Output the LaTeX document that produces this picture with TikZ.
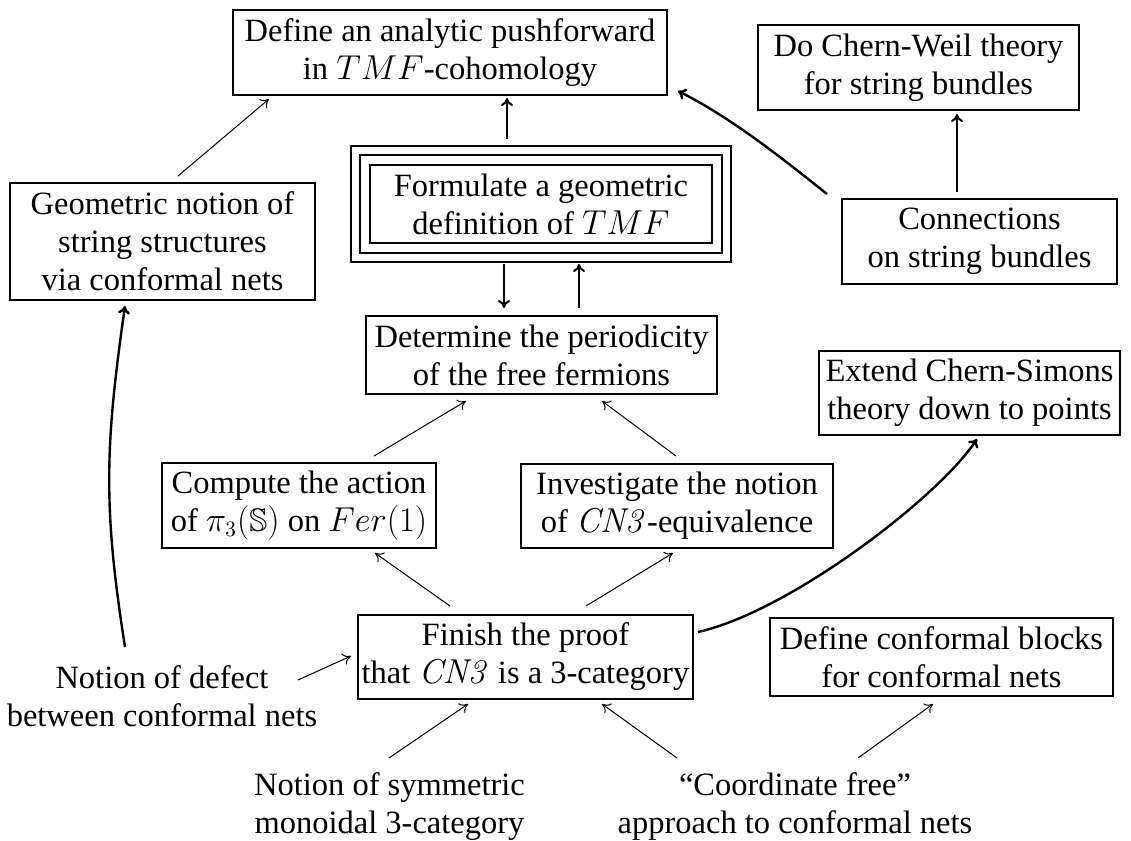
\documentclass[tikz,border=0pt]{standalone}
\usepackage[no-math]{fontspec}
\setmainfont{Liberation Serif}
\usepackage{amssymb}
\usetikzlibrary{arrows.meta}

\begin{document}
\begin{tikzpicture}[x=0.5pt, y=-0.5pt, >={To[length=4pt,width=6pt]},
    font=\fontsize{16.25}{19}\selectfont,
    goalbox/.style={draw, line width=1pt, align=center, inner sep=0pt},
    remark/.style={align=center, inner sep=0pt},
    link/.style={->, line width=0.5pt},
    vlink/.style={->, line width=1pt},
    swoop/.style={->, line width=1.2pt}]
    % Rand des Bildes
    \useasboundingbox (0,0) rectangle (1131,841);

    % Obere Reihe
    \node[goalbox, minimum width=217pt, minimum height=42.5pt] (push) at (450,52.5)
        {Define an analytic pushforward\\in $TMF$-cohomology};
    \node[goalbox, minimum width=160.5pt, minimum height=42.5pt] (cw) at (918.5,67.5)
        {Do Chern-Weil theory\\for string bundles};

    % Hauptziel mit dreifachem Rahmen
    \node[goalbox, minimum width=171pt, minimum height=39pt] (tmf) at (541,204)
        {Formulate a geometric\\definition of $TMF$};
    \draw[line width=1pt] ([shift={(-9,-9)}]tmf.north west) rectangle ([shift={(9,9)}]tmf.south east);
    \draw[line width=1pt] ([shift={(-18,-18)}]tmf.north west) rectangle ([shift={(18,18)}]tmf.south east);

    \node[goalbox, minimum width=152.5pt, minimum height=58.5pt] (geo) at (162.5,241.5)
        {Geometric notion of\\string structures\\via conformal nets};
    \node[goalbox, minimum width=137.5pt, minimum height=42.5pt] (conn) at (979.5,241.5)
        {Connections\\on string bundles};

    % Mittlere Reihen
    \node[goalbox, minimum width=175.5pt, minimum height=39pt] (det) at (541.5,355)
        {Determine the periodicity\\of the free fermions};
    \node[goalbox, minimum width=150.5pt, minimum height=42pt] (ext) at (969.5,393)
        {Extend Chern-Simons\\theory down to points};
    \node[goalbox, minimum width=137pt, minimum height=42.5pt] (comp) at (299,505.5)
        {Compute the action\\of $\pi_3(\mathbb{S})$ on $Fer(1)$};
    \node[goalbox, minimum width=156pt, minimum height=42pt] (inv) at (677,506)
        {Investigate the notion\\of $\mathit{CN3}$-equivalence};

    % Untere Reihe
    \node[goalbox, minimum width=167.5pt, minimum height=42pt] (fin) at (525.5,657)
        {Finish the proof\\that $\mathit{CN3}$ is a 3-category};
    \node[goalbox, minimum width=171.5pt, minimum height=39pt] (blk) at (941.5,657)
        {Define conformal blocks\\for conformal nets};
    \node[remark] (defect) at (162,696) {Notion of defect\\between conformal nets};
    \node[remark] (sym) at (389.5,807) {Notion of symmetric\\monoidal 3-category};
    \node[remark] (coord) at (795,807) {“Coordinate free”\\approach to conformal nets};

    % Pfeile oben
    \draw[link] ([shift={(15.5,-6)}]geo.north) -- ([shift={(-181,3)}]push.south);
    \draw[vlink] ([shift={(-34,-25)}]tmf.north) -- ([shift={(57,2)}]push.south);
    \draw[swoop] ([shift={(-14,-4)}]conn.north west) .. controls +(-50,-40) and +(50,25) .. ([shift={(10,-5)}]push.south east);
    \draw[vlink] ([shift={(-22.5,-6)}]conn.north) -- ([shift={(38.5,3)}]cw.south);

    % Pfeile in der Mitte
    \draw[vlink] ([shift={(-37,20)}]tmf.south) -- ([shift={(-37.5,-7)}]det.north);
    \draw[vlink] ([shift={(37.5,-7)}]det.north) -- ([shift={(38,20)}]tmf.south);
    \draw[link] ([shift={(75,-6)}]comp.north) -- ([shift={(-75.5,6)}]det.south);
    \draw[link] ([shift={(-1,-7)}]inv.north) -- ([shift={(60.5,6)}]det.south);
    \draw[link] ([shift={(-75.5,-8)}]fin.north) -- ([shift={(76,4)}]comp.south);
    \draw[link] ([shift={(60.5,-8)}]fin.north) -- ([shift={(-4,4)}]inv.south);
    \draw[swoop] ([shift={(4,-25)}]fin.east) .. controls +(90,-20) and +(-40,60) .. ([shift={(7.5,3)}]ext.south);

    % Pfeile unten
    \draw[link] ([shift={(136,-16)}]defect.center) -- ([shift={(-6,-1)}]fin.west);
    \draw[swoop] ([shift={(-37,-49)}]defect.center) .. controls +(-22,-140) and +(-20,140) .. ([shift={(-37.5,5)}]geo.south);
    \draw[link] ([shift={(-0.5,-49)}]sym.center) -- ([shift={(-57.5,4)}]fin.south);
    \draw[link] ([shift={(-118,-49)}]coord.center) -- ([shift={(76.5,4)}]fin.south);
    \draw[link] ([shift={(63,-49)}]coord.center) -- ([shift={(-8.5,7)}]blk.south);
\end{tikzpicture}
\end{document}
